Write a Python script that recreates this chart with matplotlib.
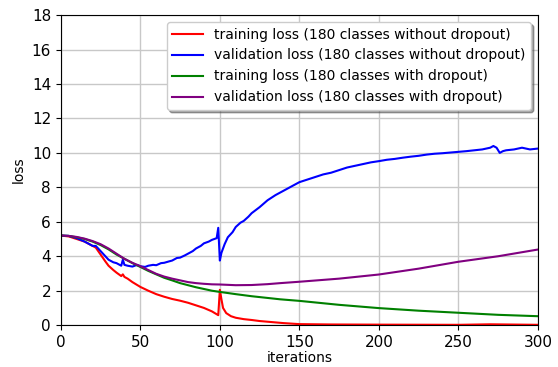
import numpy as np
import matplotlib
matplotlib.use("Agg")
import matplotlib.pyplot as plt

# values
it_red = [0, 5, 10, 15, 20, 22, 25, 28, 30, 33, 35, 38, 39, 40, 42, 45, 50, 55, 60, 65, 70, 75, 80, 85,
          90, 95, 99, 100, 101, 102, 104, 107, 110, 115, 120, 125, 130, 140, 150, 170, 200, 250, 270, 300]
train_nodrop = [5.2, 5.15, 5.0, 4.85, 4.6, 4.5, 4.1, 3.7, 3.45, 3.2, 3.05, 2.85, 2.95, 2.8, 2.7, 2.5, 2.22,
                2.0, 1.8, 1.65, 1.52, 1.42, 1.3, 1.15, 1.0, 0.8, 0.58, 2.05, 1.5, 1.0, 0.7, 0.52, 0.43,
                0.35, 0.3, 0.24, 0.2, 0.12, 0.06, 0.04, 0.03, 0.02, 0.05, 0.02]

it_blue = [0, 5, 10, 15, 20, 22, 25, 28, 30, 33, 35, 38, 39, 40, 42, 45, 48, 50, 53, 55, 58, 60, 63, 65,
           68, 70, 73, 75, 78, 80, 83, 85, 88, 90, 93, 95, 98, 99, 100, 101, 103, 105, 108, 110, 113, 115,
           118, 120, 125, 130, 135, 140, 145, 150, 155, 160, 165, 170, 175, 180, 185, 190, 195, 200, 205,
           210, 215, 220, 225, 230, 235, 240, 245, 250, 255, 260, 265, 270, 272, 274, 276, 278, 280, 285,
           290, 295, 300]
val_nodrop = [5.2, 5.18, 5.05, 4.85, 4.6, 4.6, 4.3, 4.0, 3.8, 3.65, 3.6, 3.45, 3.8, 3.5, 3.45, 3.4, 3.5,
              3.42, 3.38, 3.45, 3.5, 3.48, 3.6, 3.62, 3.7, 3.75, 3.9, 3.92, 4.05, 4.15, 4.3, 4.45, 4.6,
              4.75, 4.85, 4.95, 5.05, 5.65, 3.75, 4.2, 4.7, 5.1, 5.4, 5.7, 5.95, 6.05, 6.3, 6.5, 6.85,
              7.25, 7.55, 7.8, 8.05, 8.3, 8.45, 8.6, 8.75, 8.85, 9.0, 9.15, 9.25, 9.35, 9.45, 9.52, 9.6,
              9.65, 9.72, 9.78, 9.83, 9.9, 9.95, 9.98, 10.02, 10.06, 10.1, 10.15, 10.2, 10.3, 10.4, 10.3,
              10.0, 10.1, 10.15, 10.2, 10.3, 10.2, 10.25]

it_drop = [0, 5, 10, 15, 20, 25, 30, 35, 40, 45, 50, 55, 60, 65, 70, 75, 80, 85, 90, 95, 100, 110, 120,
           130, 138, 150, 175, 200, 225, 250, 275, 300]
train_drop = [5.2, 5.18, 5.1, 5.0, 4.85, 4.65, 4.4, 4.1, 3.85, 3.6, 3.38, 3.15, 2.95, 2.75, 2.6, 2.44,
              2.32, 2.2, 2.1, 2.0, 1.93, 1.8, 1.68, 1.58, 1.5, 1.41, 1.18, 0.99, 0.84, 0.72, 0.6, 0.52]
val_drop = [5.2, 5.18, 5.12, 5.02, 4.88, 4.7, 4.45, 4.15, 3.85, 3.62, 3.42, 3.2, 2.98, 2.82, 2.7, 2.6,
            2.5, 2.44, 2.4, 2.37, 2.36, 2.32, 2.33, 2.38, 2.44, 2.52, 2.7, 2.94, 3.28, 3.68, 4.0, 4.39]

fig = plt.figure(figsize=(5.58, 3.67), dpi=100)
ax = fig.add_axes([0.109, 0.114, 0.855, 0.845])

ax.plot(it_red, train_nodrop, color="red", lw=1.5, label="training loss (180 classes without dropout)")
ax.plot(it_blue, val_nodrop, color="blue", lw=1.5, label="validation loss (180 classes without dropout)")
ax.plot(it_drop, train_drop, color="green", lw=1.5, label="training loss (180 classes with dropout)")
ax.plot(it_drop, val_drop, color="purple", lw=1.5, label="validation loss (180 classes with dropout)")

ax.set_xlim(0, 300)
ax.set_ylim(0, 18)
ax.set_xticks(np.arange(0, 301, 50))
ax.set_yticks(np.arange(0, 19, 2))
ax.tick_params(labelsize=11)
ax.grid(True, color="#c8c8c8", lw=1)
ax.set_axisbelow(True)
ax.set_xlabel("iterations", fontsize=10, labelpad=1)
ax.set_ylabel("loss", fontsize=10)

ax.legend(loc="upper right", fontsize=10, shadow=True, framealpha=1, handlelength=2.2,
          borderaxespad=0.5)

fig.savefig("out.png", dpi=100)
